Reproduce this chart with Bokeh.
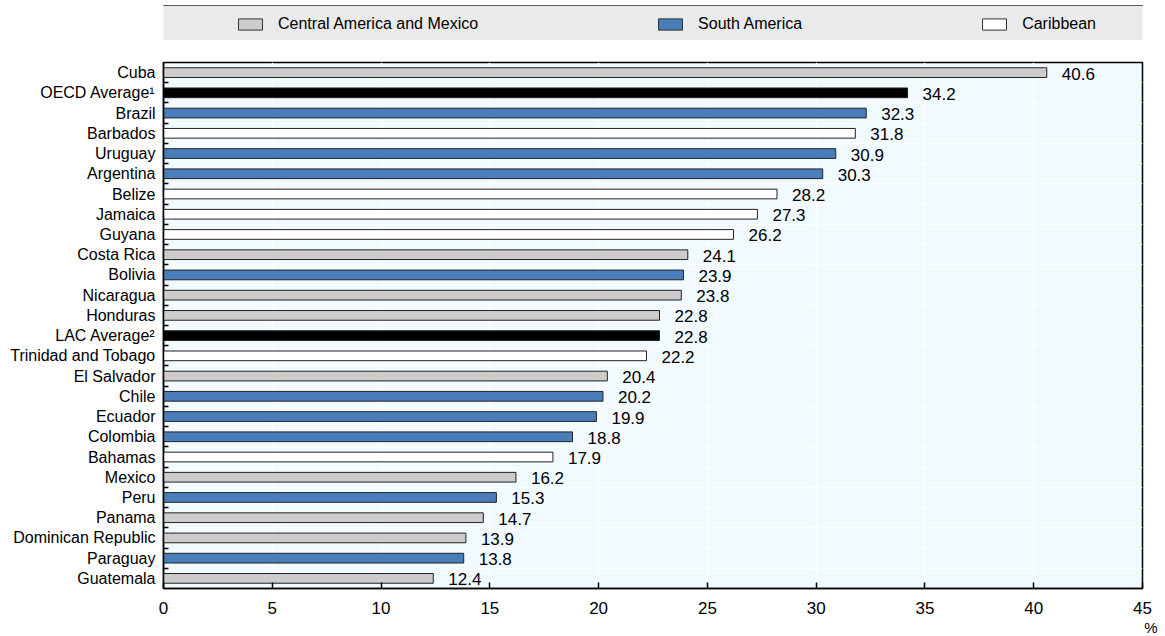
from bokeh.plotting import figure
from bokeh.models import (Range1d, FixedTicker, Legend, LegendItem, Title, ColumnDataSource)
from bokeh.layouts import column
from bokeh.core.properties import value
from bokeh.embed import file_html
from bokeh.resources import INLINE

FONT = "Liberation Sans"

countries = ["Cuba", "OECD Average\u00b9", "Brazil", "Barbados", "Uruguay", "Argentina",
             "Belize", "Jamaica", "Guyana", "Costa Rica", "Bolivia", "Nicaragua",
             "Honduras", "LAC Average\u00b2", "Trinidad and Tobago", "El Salvador",
             "Chile", "Ecuador", "Colombia", "Bahamas", "Mexico", "Peru", "Panama",
             "Dominican Republic", "Paraguay", "Guatemala"]
values = [40.6, 34.2, 32.3, 31.8, 30.9, 30.3, 28.2, 27.3, 26.2, 24.1, 23.9, 23.8,
          22.8, 22.8, 22.2, 20.4, 20.2, 19.9, 18.8, 17.9, 16.2, 15.3, 14.7, 13.9,
          13.8, 12.4]
groups = ["CAM", "AVG", "SA", "CAR", "SA", "SA", "CAR", "CAR", "CAR", "CAM", "SA",
          "CAM", "CAM", "AVG", "CAR", "CAM", "SA", "SA", "SA", "CAR", "CAM", "SA",
          "CAM", "CAM", "SA", "CAM"]
group_names = {"CAM": "Central America and Mexico", "SA": "South America", "CAR": "Caribbean"}
group_colors = {"CAM": "#CCCCCC", "SA": "#4A7EBB", "CAR": "#FFFFFF", "AVG": "#000000"}
x_ticks = [0, 5, 10, 15, 20, 25, 30, 35, 40, 45]
unit_label = "%"

n = len(countries)
ys = list(range(n))
src = ColumnDataSource(dict(
    y=ys, v=values, name=countries,
    color=[group_colors[g] for g in groups],
    lab=["%.1f" % v for v in values],
))

W = 1160
BL, BR = 163, 18

# ---------- legend band ----------
pl = figure(width=W, height=40, x_range=(0, 1), y_range=(0, 1),
            min_border_left=BL, min_border_right=BR, min_border_top=5, min_border_bottom=0,
            toolbar_location=None, output_backend="svg",
            x_axis_location=None, y_axis_location=None,
            background_fill_color="#EAEAEA", border_fill_color="white",
            outline_line_color=None)
pl.grid.visible = False
items = []
for g in ["CAM", "SA", "CAR"]:
    # legend swatch renderer, kept outside the visible range of the band
    r = pl.hbar(y=[10], right=[1], height=1, fill_color=group_colors[g], line_color="#333333")
    items.append(LegendItem(label=group_names[g], renderers=[r], index=0))
leg = Legend(items=items, orientation="horizontal", location=(72, 7), spacing=177,
             glyph_width=30, glyph_height=14, label_standoff=13, padding=0, margin=0,
             background_fill_alpha=0, border_line_color=None,
             label_text_font=FONT, label_text_font_size="16px", label_text_color="#000000")
pl.add_layout(leg, "center")

# ---------- main chart ----------
p = figure(width=W, height=596, x_range=Range1d(0, 45), y_range=Range1d(n - 0.5, -0.5),
           min_border_left=BL, min_border_right=BR, min_border_top=22, min_border_bottom=48,
           toolbar_location=None, output_backend="svg",
           background_fill_color="#F0FAFF", border_fill_color="white",
           outline_line_color="#000000", outline_line_width=1.5)

p.hbar(y="y", right="v", left=0, height=0.48, source=src,
       fill_color="color", line_color="#222222", line_width=1)
p.text(x="v", y="y", text="lab", source=src, x_offset=15, y_offset=1,
       text_font=value(FONT), text_font_size="17px", text_baseline="middle",
       text_align="left", text_color="#000000")

# x axis
p.xaxis.ticker = FixedTicker(ticks=x_ticks)
p.xaxis.major_tick_in = 6
p.xaxis.major_tick_out = 0
p.xaxis.minor_tick_line_color = None
p.xaxis.minor_tick_out = 0
p.xaxis.major_label_text_font = FONT
p.xaxis.major_label_text_font_size = "17px"
p.xaxis.major_label_text_color = "#000000"
p.xaxis.major_label_standoff = 13
p.xaxis.axis_line_width = 1.5
p.xaxis.major_tick_line_width = 1.5

# y axis: labels at row centres, small ticks at row boundaries
p.yaxis.ticker = FixedTicker(ticks=ys, minor_ticks=[i + 0.5 for i in range(n - 1)])
p.yaxis.major_label_overrides = {i: c for i, c in enumerate(countries)}
p.yaxis.major_tick_line_color = None
p.yaxis.major_tick_in = 0
p.yaxis.major_tick_out = 0
p.yaxis.minor_tick_in = 5
p.yaxis.minor_tick_out = 0
p.yaxis.minor_tick_line_width = 1.5
p.yaxis.major_label_text_font = FONT
p.yaxis.major_label_text_font_size = "16px"
p.yaxis.major_label_text_color = "#000000"
p.yaxis.major_label_standoff = 8
p.yaxis.axis_line_width = 1.5

# grid
p.xgrid.grid_line_color = "white"
p.xgrid.grid_line_width = 1.5
p.ygrid.grid_line_color = None
p.ygrid.minor_grid_line_color = "white"
p.ygrid.minor_grid_line_width = 1

p.add_layout(Title(text=unit_label, align="right", offset=-15, standoff=0,
                   text_font=FONT, text_font_size="15px", text_font_style="normal",
                   text_color="#000000"), "below")

layout = column(pl, p)
open("out.html", "w").write(file_html(layout, INLINE))
